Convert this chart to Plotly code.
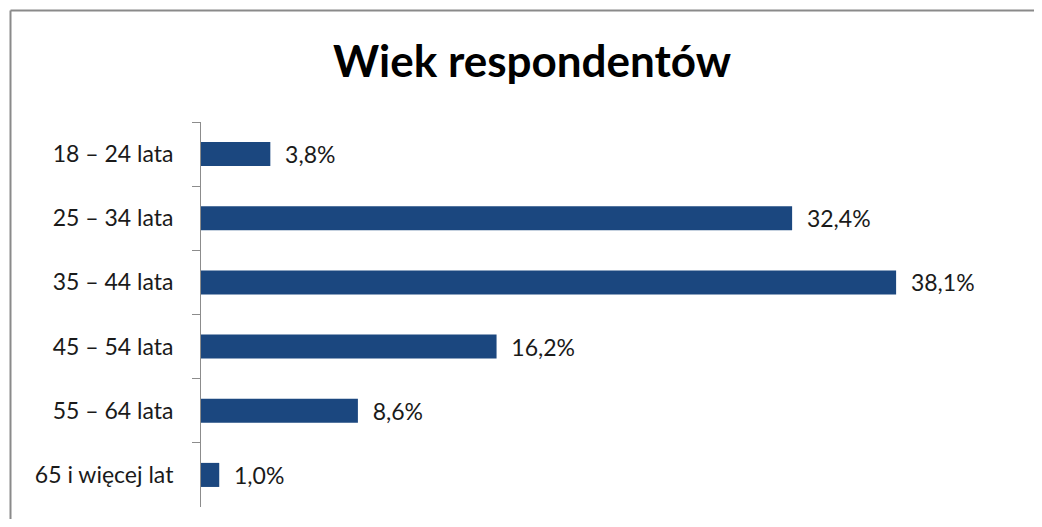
"""Wiek respondentów - poziomy wykres słupkowy"""

import plotly.graph_objects as go

categories = ["18 – 24 lata", "25 – 34 lata", "35 – 44 lata", "45 – 54 lata", "55 – 64 lata", "65 i więcej lat"]
values = [3.8, 32.4, 38.1, 16.2, 8.6, 1.0]

BAR_COLOR = "#1B477F"
AXIS_COLOR = "#8C8C8C"
FONT = "Lato"

# strona ma 8px marginesu body, więc wszystko przesuwamy o 8px
OFF = 8
W, H = 1042 - 2 * OFF, 527 - 2 * OFF
L, R, T, B = 201 - OFF, 20 - OFF, 122 - OFF, 20 - OFF

labels = ["\u00a0\u00a0" + f"{v:.1f}%".replace(".", ",") for v in values]

fig = go.Figure()

fig.add_trace(
    go.Bar(
        x=values,
        y=categories,
        orientation="h",
        marker=dict(color=BAR_COLOR, line=dict(width=0)),
        text=labels,
        textposition="outside",
        constraintext="none",
        textfont=dict(size=23, color="#1a1a1a", family=FONT),
        cliponaxis=False,
        showlegend=False,
    )
)

# ramka wykresu (widoczna tylko góra i lewa strona)
pw, ph = W - L - R, H - T - B
x0 = (10.5 - OFF - L) / pw
y0 = 1 + (T - (10.5 - OFF)) / ph
fig.add_shape(type="line", xref="paper", yref="paper", x0=x0, x1=(W - L) / pw, y0=y0, y1=y0,
              line=dict(color="#8A8A8A", width=2))
fig.add_shape(type="line", xref="paper", yref="paper", x0=x0, x1=x0, y0=y0, y1=-B / ph,
              line=dict(color="#8A8A8A", width=2))

fig.update_layout(
    width=W,
    height=H,
    margin=dict(l=L, r=R, t=T, b=B),
    paper_bgcolor="white",
    plot_bgcolor="white",
    bargap=0.625,
    title=dict(
        text="<b>Wiek respondentów</b>",
        x=(532 - OFF - L) / pw,
        xref="paper",
        xanchor="center",
        y=1 - (62 - OFF) / H,
        yanchor="middle",
        font=dict(size=44, color="#000000", family=FONT),
    ),
    xaxis=dict(
        range=[0, 45],
        visible=False,
    ),
    yaxis=dict(
        autorange="reversed",
        showline=True,
        linecolor=AXIS_COLOR,
        linewidth=1,
        ticks="outside",
        tickson="boundaries",
        ticklen=8,
        tickcolor=AXIS_COLOR,
        ticklabelstandoff=22,
        tickfont=dict(size=23, color="#1a1a1a", family=FONT),
        showgrid=False,
    ),
)

fig.write_html("out.html")
